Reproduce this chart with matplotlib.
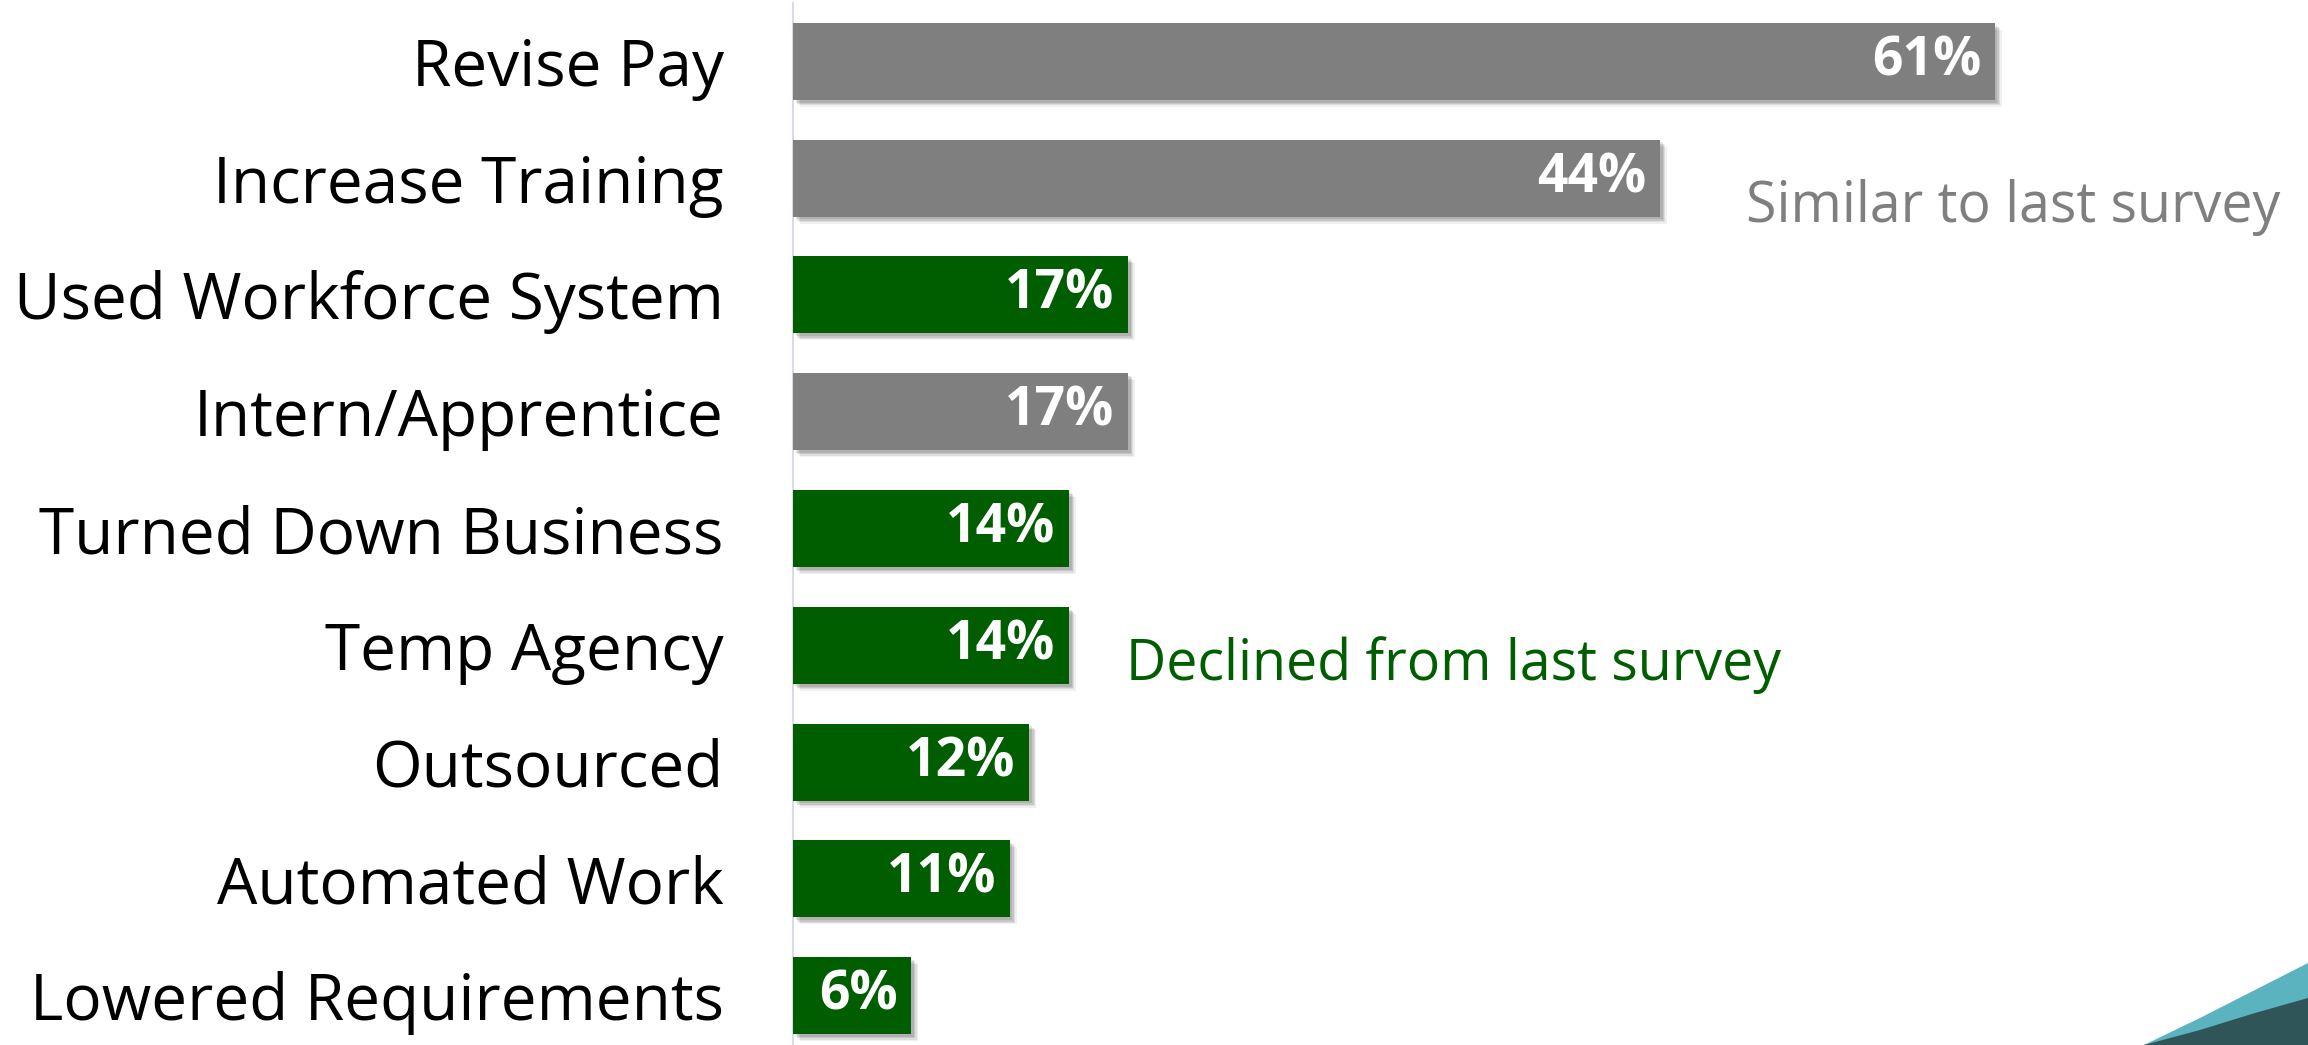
import matplotlib.pyplot as plt
import matplotlib.patheffects as pe
from matplotlib.patches import Polygon

categories = ["Revise Pay", "Increase Training", "Used Workforce System",
              "Intern/Apprentice", "Turned Down Business", "Temp Agency",
              "Outsourced", "Automated Work", "Lowered Requirements"]
values = [61, 44, 17, 17, 14, 14, 12, 11, 6]
# "gray" = similar to last survey, "green" = declined
trend = ["gray", "gray", "green", "gray", "green", "green", "green", "green", "green"]

GRAY = "#7f7f7f"
GREEN = "#005e00"
colors = {"gray": GRAY, "green": GREEN}

plt.rcParams['font.family'] = ['Open Sans', 'DejaVu Sans']

fig = plt.figure(figsize=(23.08, 10.45), dpi=100)
ax = fig.add_axes([793 / 2308, -9 / 1045, 1 - 793 / 2308, 1051 / 1045])

ypos = list(range(len(categories)))
shadow = [pe.SimplePatchShadow(offset=(d, -d), shadow_rgbFace="k", alpha=a)
          for d, a in [(5, 0.06), (4, 0.08), (3, 0.1), (2, 0.1)]] + [pe.Normal()]
bars = ax.barh(ypos, values, height=0.66, color=[colors[t] for t in trend],
               zorder=3)
for b in bars:
    b.set_path_effects(shadow)

for y, v in zip(ypos, values):
    ax.text(v - 0.7, y, f"{v}%", ha="right", va="center", color="white",
            fontsize=38.5, fontweight="bold", zorder=4)

ax.set_xlim(0, (2308 - 793) / 19.7)
ax.set_ylim(len(categories) - 0.5, -0.5)
ax.set_yticks(ypos)
ax.set_yticklabels(categories, fontsize=46)
ax.tick_params(axis="y", length=0, pad=50)
ax.set_xticks([])
for s in ["top", "right", "bottom"]:
    ax.spines[s].set_visible(False)
ax.spines["left"].set_color("#d9dce8")
ax.spines["left"].set_linewidth(1.5)

ax.text(48.4, 1.25, "Similar to last survey", color=GRAY, fontsize=40,
        va="center", ha="left")
ax.text(16.9, 5.17, "Declined from last survey", color=GREEN, fontsize=40,
        va="center", ha="left")

# corner swoosh
W, H = 2308, 1045
light = [(2144, 1045), (2200, 1018), (2255, 990), (2308, 963), (2308, 1045)]
dark = [(2144, 1045), (2200, 1030), (2255, 1013), (2308, 998), (2308, 1045)]
fig.patches.append(Polygon([(x / W, 1 - y / H) for x, y in light],
                           closed=True, transform=fig.transFigure,
                           facecolor="#5bb3c0", edgecolor="none"))
fig.patches.append(Polygon([(x / W, 1 - y / H) for x, y in dark],
                           closed=True, transform=fig.transFigure,
                           facecolor="#2f5559", edgecolor="none"))

fig.savefig("out.png", dpi=100, facecolor="white")
